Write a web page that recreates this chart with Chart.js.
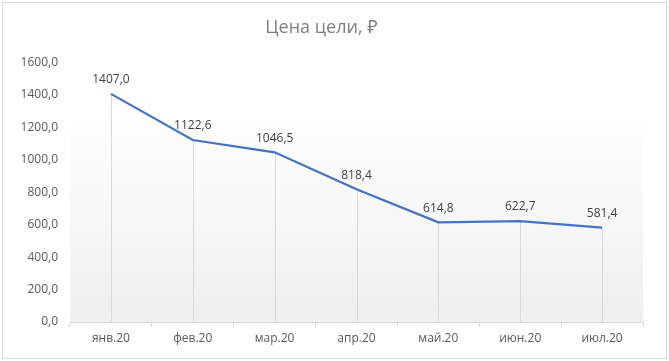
<!DOCTYPE html>
<html>
<head>
<meta charset="utf-8">
<script src="https://cdn.jsdelivr.net/npm/chart.js@4.4.1/dist/chart.umd.min.js"></script>
<style>
  html, body { margin: 0; padding: 0; background: #ffffff; }
  #wrap { position: relative; width: 669px; height: 361px; }
</style>
</head>
<body>
<div id="wrap"><canvas id="targetChart" width="669" height="361"></canvas></div>
<script>
// Данные графика
const months = ['янв.20', 'фев.20', 'мар.20', 'апр.20', 'май.20', 'июн.20', 'июл.20'];
const targetPrice = [1407.0, 1122.6, 1046.5, 818.4, 614.8, 622.7, 581.4];
const yTicks = [0, 200, 400, 600, 800, 1000, 1200, 1400, 1600];

const fmt = v => v.toFixed(1).replace('.', ',');
const FONT = '"Open Sans", "Noto Sans", sans-serif';

// Фон области построения (градиент) + рамка всей диаграммы
const backgroundPlugin = {
    id: 'bgPlugin',
    beforeDraw(chart) {
        const { ctx, chartArea: a } = chart;
        ctx.save();
        const g = ctx.createLinearGradient(0, a.top, 0, a.bottom);
        g.addColorStop(0, '#ffffff');
        g.addColorStop(0.15, '#ffffff');
        g.addColorStop(1, '#efefef');
        ctx.fillStyle = g;
        ctx.fillRect(a.left, a.top, a.right - a.left, a.bottom - a.top);
        ctx.strokeStyle = '#d9d9d9';
        ctx.lineWidth = 1;
        ctx.strokeRect(2.5, 2.5, chart.width - 5, chart.height - 5);
        ctx.restore();
    }
};

// Вертикальные линии от точек до оси
const dropLinesPlugin = {
    id: 'dropLines',
    beforeDatasetsDraw(chart) {
        const { ctx, chartArea: a } = chart;
        const meta = chart.getDatasetMeta(0);
        ctx.save();
        ctx.strokeStyle = '#d9d9d9';
        ctx.lineWidth = 1;
        meta.data.forEach(pt => {
            const x = Math.round(pt.x) + 0.5;
            ctx.beginPath();
            ctx.moveTo(x, pt.y);
            ctx.lineTo(x, a.bottom);
            ctx.stroke();
        });
        ctx.restore();
    }
};

// Подписи значений над точками
const valueLabelsPlugin = {
    id: 'valueLabels',
    afterDatasetsDraw(chart) {
        const { ctx } = chart;
        const meta = chart.getDatasetMeta(0);
        const data = chart.data.datasets[0].data;
        ctx.save();
        ctx.font = '12px ' + FONT;
        ctx.fillStyle = '#404040';
        ctx.textAlign = 'center';
        ctx.textBaseline = 'bottom';
        meta.data.forEach((pt, i) => {
            ctx.fillText(fmt(data[i]), pt.x, pt.y - 8);
        });
        ctx.restore();
    }
};

const ctx = document.getElementById('targetChart');
new Chart(ctx, {
    type: 'line',
    data: {
        labels: months,
        datasets: [{
            label: 'Цена цели',
            data: targetPrice,
            borderColor: '#4472c4',
            borderWidth: 2.25,
            pointRadius: 0,
            tension: 0,
            fill: false
        }]
    },
    options: {
        responsive: false,
        animation: false,
        devicePixelRatio: 1,
        layout: { padding: { left: 0, right: 26, top: 0, bottom: 0 } },
        plugins: {
            legend: { display: false },
            tooltip: { enabled: false },
            title: {
                display: true,
                text: 'Цена цели, ₽',
                color: '#7f7f7f',
                font: { family: FONT, size: 18, weight: 'normal' },
                padding: { top: 17, bottom: 24 }
            }
        },
        scales: {
            x: {
                offset: true,
                grid: {
                    display: true,
                    offset: true,
                    drawOnChartArea: false,
                    drawTicks: true,
                    tickLength: 5,
                    color: '#d9d9d9'
                },
                border: { display: true, color: '#d9d9d9', width: 1 },
                ticks: {
                    color: '#595959',
                    font: { family: FONT, size: 12 },
                    padding: 4,
                    maxRotation: 0
                },
                afterFit(scale) { scale.height = 39; }
            },
            y: {
                min: 0,
                max: 1600,
                afterBuildTicks(scale) {
                    scale.ticks = yTicks.map(v => ({ value: v }));
                },
                grid: { display: false },
                border: { display: false },
                ticks: {
                    color: '#595959',
                    font: { family: FONT, size: 12 },
                    padding: 4,
                    callback: v => fmt(v)
                },
                afterFit(scale) { scale.width = 70; }
            }
        }
    },
    plugins: [backgroundPlugin, dropLinesPlugin, valueLabelsPlugin]
});
</script>
</body>
</html>
